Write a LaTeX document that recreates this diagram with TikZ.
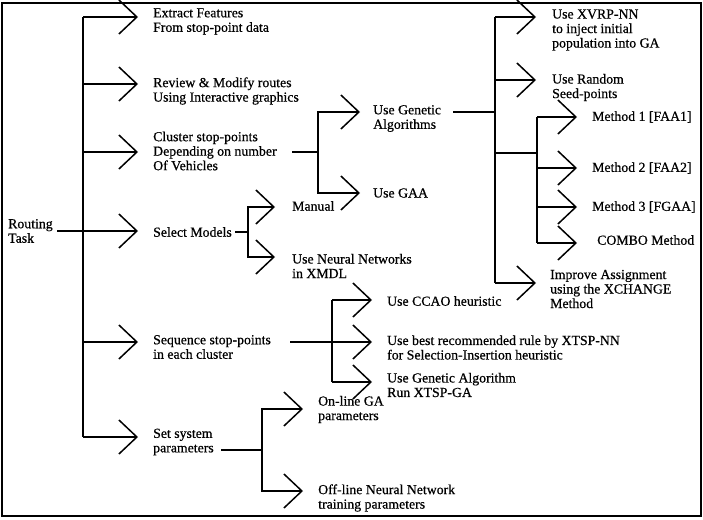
\documentclass[tikz,border=0pt]{standalone}
\usepackage{fontspec}
\setmainfont{Liberation Serif}[FakeBold=0.6]
\usetikzlibrary{arrows.meta}
\begin{document}
\begin{tikzpicture}[x=1pt,y=-1pt,
  lbl/.style={anchor=west, inner sep=0pt, align=left, font=\fontsize{13.8}{14.5}\selectfont},
  ln/.style={line width=1.5pt},
  arr/.style={line width=1.5pt, -{Straight Barb[length=18pt,width=34pt]}}]
\useasboundingbox (0,0) rectangle (703,519);
\draw[line width=2pt] (2,3) rectangle (701,516);

% labels
\node[lbl] (root) at (8,231) {Routing\\Task};
\node[lbl] (ext) at (153,21.5) {Extract Features\\From stop-point data};
\node[lbl] (rev) at (153,91) {Review \& Modify routes\\Using Interactive graphics};
\node[lbl] (clu) at (153,151) {Cluster stop-points\\Depending on number\\Of Vehicles};
\node[lbl] (sel) at (153,232) {Select Models};
\node[lbl] (seq) at (153,347) {Sequence stop-points\\in each cluster};
\node[lbl] (set) at (153,442) {Set system\\parameters};
\node[lbl] (man) at (292,206) {Manual};
\node[lbl] (nn) at (292,266) {Use Neural Networks\\in XMDL};
\node[lbl] (gen) at (373,118.5) {Use Genetic\\Algorithms};
\node[lbl] (gaa) at (373,193) {Use GAA};
\node[lbl] (xvrp) at (552,30) {Use XVRP-NN\\to inject initial\\population into GA};
\node[lbl] (rnd) at (552,87.5) {Use Random\\Seed-points};
\node[lbl] (m1) at (592,117) {Method 1 [FAA1]};
\node[lbl] (m2) at (592,168) {Method 2 [FAA2]};
\node[lbl] (m3) at (592,207) {Method 3 [FGAA]};
\node[lbl] (combo) at (597,240) {COMBO Method};
\node[lbl] (imp) at (550,289) {Improve Assignment\\using the XCHANGE\\Method};
\node[lbl] (ccao) at (387,301) {Use CCAO heuristic};
\node[lbl] (best) at (387,347.5) {Use best recommended rule by XTSP-NN\\for Selection-Insertion heuristic};
\node[lbl] (gats) at (387,385) {Use Genetic Algorithm\\Run XTSP-GA};
\node[lbl] (onl) at (318,409.5) {On-line GA\\parameters};
\node[lbl] (offl) at (318,498) {Off-line Neural Network\\training parameters};

% junction columns
\coordinate (T) at (83,0);
\coordinate (J1) at (248,0);
\coordinate (J2) at (318,0);
\coordinate (J3) at (495,0);
\coordinate (J4) at (537,0);
\coordinate (J5) at (332,0);
\coordinate (J6) at (262,0);

% arrow tips
\coordinate (ext-t) at (138,17);
\coordinate (rev-t) at (138,84);
\coordinate (clu-t) at (138,152);
\coordinate (sel-t) at (138,231);
\coordinate (seq-t) at (138,342);
\coordinate (set-t) at (138,437);
\coordinate (man-t) at (275,207);
\coordinate (nn-t) at (275,257);
\coordinate (gen-t) at (360,112);
\coordinate (gaa-t) at (360,193);
\coordinate (xvrp-t) at (536,17);
\coordinate (rnd-t) at (536,80);
\coordinate (imp-t) at (536,283);
\coordinate (m1-t) at (577,117);
\coordinate (m2-t) at (577,168);
\coordinate (m3-t) at (577,207);
\coordinate (combo-t) at (577,243);
\coordinate (ccao-t) at (372,300);
\coordinate (best-t) at (372,342);
\coordinate (gats-t) at (372,382);
\coordinate (onl-t) at (303,409);
\coordinate (offl-t) at (303,491);

% line starts
\coordinate (root-o) at (57,231);
\coordinate (sel-o) at (235,232);
\coordinate (clu-o) at (292,152);
\coordinate (gen-o) at (453,112);
\coordinate (seq-o) at (290,342);
\coordinate (set-o) at (221,450);
\coordinate (sub-o) at (495,153);

% main trunk
\draw[ln] (T |- ext-t) -- (T |- set-t);
\draw[arr] (T |- ext-t) -- (ext-t);
\draw[arr] (T |- rev-t) -- (rev-t);
\draw[arr] (T |- clu-t) -- (clu-t);
\draw[arr] (root-o) -- (sel-t);
\draw[arr] (T |- seq-t) -- (seq-t);
\draw[arr] (T |- set-t) -- (set-t);

% select models
\draw[ln] (sel-o) -- (J1 |- sel-o);
\draw[arr] (J1 |- sel-o) |- (man-t);
\draw[arr] (J1 |- sel-o) |- (nn-t);

% cluster
\draw[ln] (clu-o) -- (J2 |- clu-o);
\draw[arr] (J2 |- clu-o) |- (gen-t);
\draw[arr] (J2 |- clu-o) |- (gaa-t);

% genetic algorithms
\draw[ln] (gen-o) -- (J3 |- gen-o);
\draw[ln] (J3 |- xvrp-t) -- (J3 |- imp-t);
\draw[arr] (J3 |- xvrp-t) -- (xvrp-t);
\draw[arr] (J3 |- rnd-t) -- (rnd-t);
\draw[arr] (J3 |- imp-t) -- (imp-t);
\draw[ln] (sub-o) -- (J4 |- sub-o);
\draw[ln] (J4 |- m1-t) -- (J4 |- combo-t);
\draw[arr] (J4 |- m1-t) -- (m1-t);
\draw[arr] (J4 |- m2-t) -- (m2-t);
\draw[arr] (J4 |- m3-t) -- (m3-t);
\draw[arr] (J4 |- combo-t) -- (combo-t);

% sequence
\draw[arr] (seq-o) -- (best-t);
\draw[ln] (J5 |- ccao-t) -- (J5 |- gats-t);
\draw[arr] (J5 |- ccao-t) -- (ccao-t);
\draw[arr] (J5 |- gats-t) -- (gats-t);

% set system parameters
\draw[ln] (set-o) -- (J6 |- set-o);
\draw[arr] (J6 |- set-o) |- (onl-t);
\draw[arr] (J6 |- set-o) |- (offl-t);
\end{tikzpicture}
\end{document}
